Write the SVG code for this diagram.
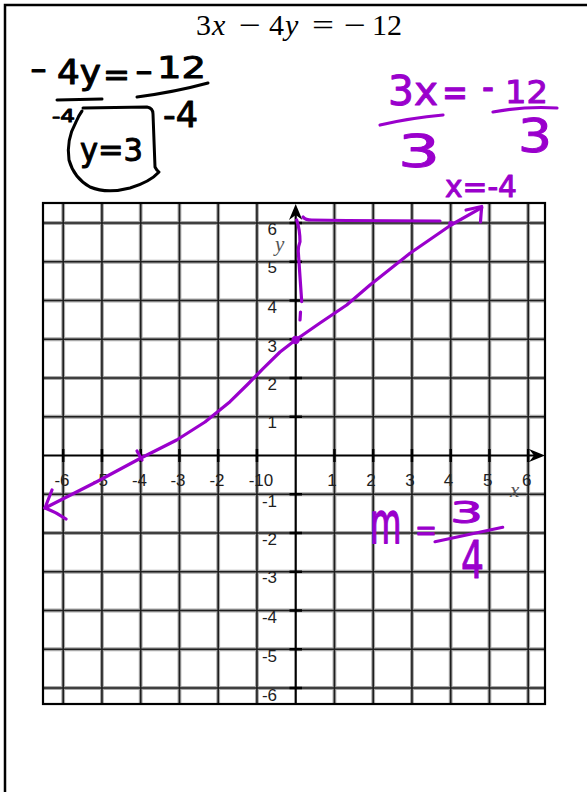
<svg xmlns="http://www.w3.org/2000/svg" width="587" height="792" viewBox="0 0 587 792">
<style>
.hw{font-family:"DejaVu Sans","Liberation Sans",sans-serif;stroke-linejoin:round}
.k{fill:#000;stroke:#000;stroke-width:1}
.p{fill:#9a00cc;stroke:#9a00cc;stroke-width:1}
.pen-k{fill:none;stroke:#000;stroke-width:3;stroke-linecap:round;stroke-linejoin:round}
.pen-p{fill:none;stroke:#9a00cc;stroke-width:3.2;stroke-linecap:round;stroke-linejoin:round}
.ttl{font-family:"Liberation Serif","DejaVu Serif",serif;font-size:30px;fill:#000}
.it{font-style:italic}
.lbl{font-family:"Liberation Sans",Arial,sans-serif;font-size:17px;fill:#1e1e1e}
.axl{font-family:"Liberation Serif",serif;font-style:italic;font-size:21px;fill:#555}
.halo{fill:none;stroke:#a8a8a8;stroke-width:3.8}
.core{fill:none;stroke:#1e1e1e;stroke-width:1.6}
</style>
<defs>
<path id="grid" d="M63.2 203V704M101.95 203V704M140.7 203V704M179.45 203V704M218.2 203V704M256.95 203V704M334.45 203V704M373.2 203V704M411.95 203V704M450.7 203V704M489.45 203V704M528.2 203V704M43 223H545M43 261.75H545M43 300.5H545M43 339.25H545M43 378H545M43 416.75H545M43 494.25H545M43 533H545M43 571.75H545M43 610.5H545M43 649.25H545M43 688H545"/>
</defs>
<rect width="587" height="792" fill="#fff"/>
<g id="page">
<path d="M5 792V5H587" fill="none" stroke="#000" stroke-width="2.5"/>
</g>
<g id="title">
<text class="ttl" x="196" y="35">3</text>
<text class="ttl it" x="212" y="35">x</text>
<text class="ttl" x="239" y="35" textLength="22" lengthAdjust="spacingAndGlyphs">−</text>
<text class="ttl" x="269" y="35">4</text>
<text class="ttl it" x="285" y="35">y</text>
<text class="ttl" x="312" y="35" textLength="22" lengthAdjust="spacingAndGlyphs">=</text>
<text class="ttl" x="344" y="35" textLength="22" lengthAdjust="spacingAndGlyphs">−</text>
<text class="ttl" x="372" y="35">12</text>
</g>
<g id="solve-y">
<text class="hw k" x="30" y="80" font-size="32" textLength="17" lengthAdjust="spacingAndGlyphs">-</text>
<text class="hw k" x="57" y="84" font-size="33" textLength="44" lengthAdjust="spacingAndGlyphs">4y</text>
<text class="hw k" x="103" y="86" font-size="32" textLength="27" lengthAdjust="spacingAndGlyphs">=</text>
<text class="hw k" x="135" y="82" font-size="32" textLength="18" lengthAdjust="spacingAndGlyphs">-</text>
<text class="hw k" x="157" y="78" font-size="30" textLength="49" lengthAdjust="spacingAndGlyphs">12</text>
<path class="pen-k" d="M57 100L102 99"/>
<path class="pen-k" d="M137 97Q175 92 208 83"/>
<text class="hw k" x="52" y="122" font-size="18" textLength="23" lengthAdjust="spacingAndGlyphs">-4</text>
<text class="hw k" x="163" y="127" font-size="36" textLength="35" lengthAdjust="spacingAndGlyphs">-4</text>
<text class="hw k" x="80" y="161" font-size="32" textLength="63" lengthAdjust="spacingAndGlyphs">y=3</text>
<path class="pen-k" d="M83 108L147 107Q153 108 153 114L155 167Q157 171 159 172Q150 182 130 188Q107 194 90 187Q74 178 69 160Q66 140 76 122Q79 115 82 111"/>
</g>
<g id="solve-x">
<text class="hw p" x="388" y="105" font-size="40" textLength="50" lengthAdjust="spacingAndGlyphs">3x</text>
<text class="hw p" x="442" y="106" font-size="40" textLength="26" lengthAdjust="spacingAndGlyphs">=</text>
<text class="hw p" x="482" y="101" font-size="40" textLength="12" lengthAdjust="spacingAndGlyphs">-</text>
<text class="hw p" x="505" y="103" font-size="32" textLength="43" lengthAdjust="spacingAndGlyphs">12</text>
<path class="pen-p" d="M380 125Q410 118 443 115"/>
<text class="hw p" x="398" y="167" font-size="44" textLength="42" lengthAdjust="spacingAndGlyphs">3</text>
<path class="pen-p" d="M493 112Q525 106 557 108"/>
<text class="hw p" x="518" y="152" font-size="46" textLength="34" lengthAdjust="spacingAndGlyphs">3</text>
<text class="hw p" x="445" y="197" font-size="30" textLength="72" lengthAdjust="spacingAndGlyphs">x=-4</text>
</g>
<g id="graph">
<use href="#grid" class="halo"/>
<use href="#grid" class="core"/>
<rect x="43" y="203" width="502" height="501" fill="none" stroke="#000" stroke-width="2.2"/>
<g id="axes" stroke="#000" fill="none">
<path d="M295.7 704V210M43 455.5H538" stroke-width="2.2"/>
<path d="M289.5 223H302M289.5 261.75H302M289.5 300.5H302M289.5 339.25H302M289.5 378H302M289.5 416.75H302M289.5 494.25H302M289.5 533H302M289.5 571.75H302M289.5 610.5H302M289.5 649.25H302M289.5 688H302" stroke-width="2.5"/>
<path d="M63.2 449V462M101.95 449V462M140.7 449V462M179.45 449V462M218.2 449V462M256.95 449V462M334.45 449V462M373.2 449V462M411.95 449V462M450.7 449V462M489.45 449V462M528.2 449V462" stroke-width="2.5"/>
<path d="M295.7 204L289 220L295.7 215L302.4 220Z" fill="#000" stroke="none"/>
<path d="M545 455.5L529 449L534 455.5L529 462Z" fill="#000" stroke="none"/>
</g>
<g id="x-labels" class="lbl" text-anchor="middle">
<text x="62" y="486">-6</text>
<text x="100.5" y="486">-5</text>
<text x="139.5" y="486">-4</text>
<text x="178" y="486">-3</text>
<text x="217" y="486">-2</text>
<text x="261" y="486">-10</text>
<text x="332" y="486">1</text>
<text x="371" y="486">2</text>
<text x="410" y="486">3</text>
<text x="448.5" y="486">4</text>
<text x="487.7" y="486">5</text>
<text x="526.7" y="486">6</text>
</g>
<g id="y-labels" class="lbl" text-anchor="end">
<text x="277" y="235">6</text>
<text x="277" y="273">5</text>
<text x="277" y="313">4</text>
<text x="277" y="351.5">3</text>
<text x="277" y="390">2</text>
<text x="277" y="428">1</text>
<text x="277" y="506.5">-1</text>
<text x="277" y="545">-2</text>
<text x="277" y="583">-3</text>
<text x="277" y="623">-4</text>
<text x="277" y="661.5">-5</text>
<text x="277" y="700.5">-6</text>
</g>
<text class="axl" x="275" y="251">y</text>
<text class="axl" x="510" y="497">x</text>
</g>
<g id="plotted-line">
<path class="pen-p" d="M45 508L96.7 481.7L140 458.5L176.7 440L205 422L230 401.7L248 384L263.3 368.3L280 352L295.5 340L320 323L346.7 305L370 285L410 253.3L451 225L481.7 207.7"/>
<path class="pen-p" d="M52 490Q48 500 45 508Q56 512 66 519"/>
<path class="pen-p" d="M466 210L481.7 206.5Q481 214 480.5 222"/>
<path class="pen-p" d="M137 451L142 460" stroke-width="4"/>
<circle cx="295.6" cy="340" r="4.2" fill="#9a00cc"/>
<circle cx="451" cy="223.5" r="2.8" fill="#9a00cc"/>
</g>
<g id="slope-triangle">
<path class="pen-p" d="M296.7 220Q300 230 300 241.7Q298 247 298.3 252L301.7 301.7"/>
<path class="pen-p" d="M300.5 312L300 320"/>
<path class="pen-p" d="M303 217Q305 220 312 220L346.7 220.5L440 221"/>
<text class="hw p" transform="translate(370 543) scale(0.85 1.5)" x="0" y="0" font-size="38">m</text>
<text class="hw p" x="415" y="539.5" font-size="28" textLength="22" lengthAdjust="spacingAndGlyphs">=</text>
<text class="hw p" x="450" y="523" font-size="30" textLength="33" lengthAdjust="spacingAndGlyphs">3</text>
<path class="pen-p" d="M435 541.7L502.7 527.3"/>
<text class="hw p" x="461" y="578" font-size="52" textLength="23" lengthAdjust="spacingAndGlyphs">4</text>
</g>
</svg>
